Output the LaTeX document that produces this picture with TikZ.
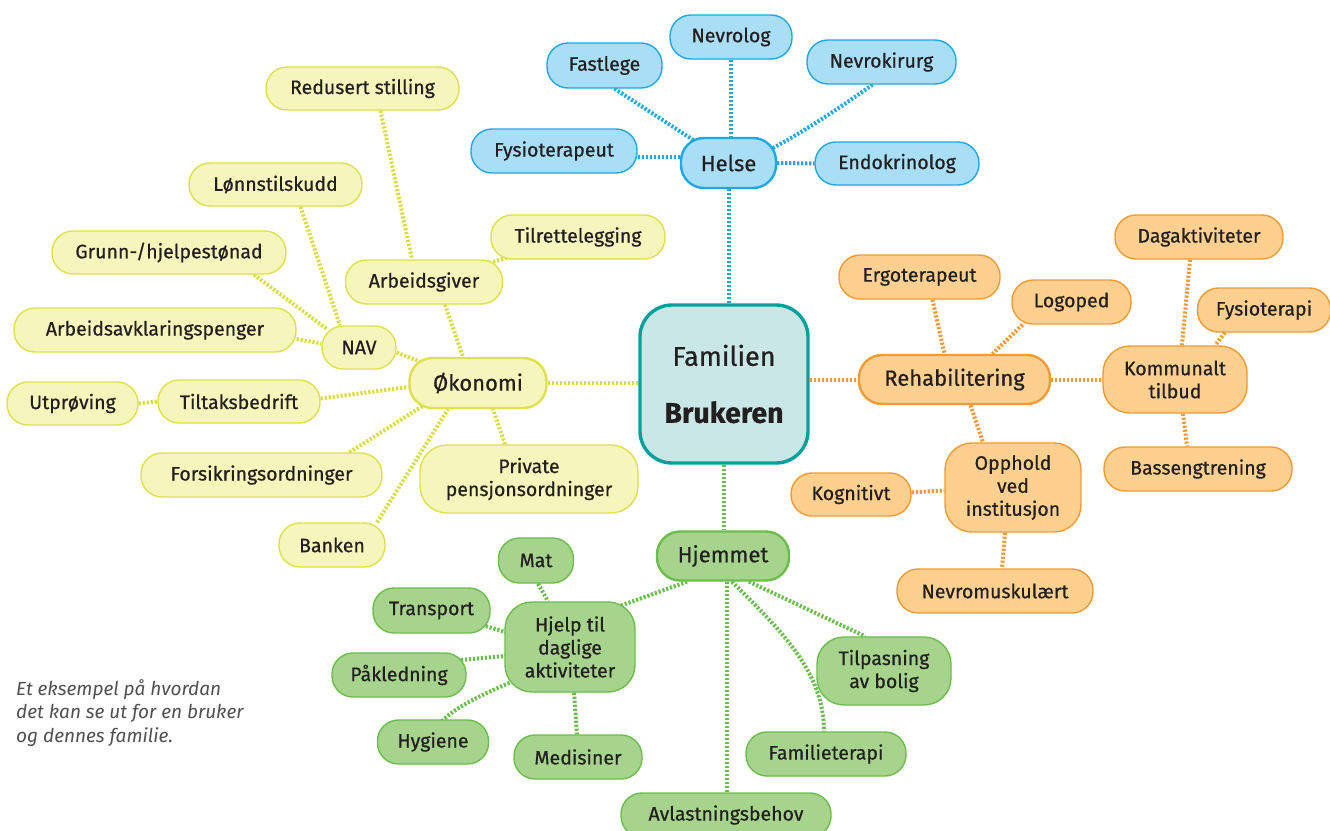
\documentclass[tikz,border=0pt]{standalone}
\usepackage{fontspec}
\setmainfont{Fira Sans}
\newfontfamily\nodefont{Fira Sans}[FakeBold=0.6]
\usetikzlibrary{backgrounds,calc}
\definecolor{txt}{HTML}{231F20}
\definecolor{bfill}{HTML}{A9DEF7}
\definecolor{bcol}{HTML}{1FA8E3}
\definecolor{yfill}{HTML}{F6F5BC}
\definecolor{ycol}{HTML}{DEE14C}
\definecolor{ydot}{HTML}{D9DE3E}
\definecolor{ofill}{HTML}{FDD08F}
\definecolor{ocol}{HTML}{F39A32}
\definecolor{gfill}{HTML}{A7D48D}
\definecolor{gcol}{HTML}{6BBD4C}
\definecolor{cfill}{HTML}{C9E8E5}
\definecolor{ccol}{HTML}{00A19A}
\definecolor{capgray}{HTML}{505050}
\begin{document}
\begin{tikzpicture}[x=1pt,y=-1pt,
  box/.style={draw, align=center, inner sep=0pt, text=txt, line width=1.4pt,
    font=\nodefont\fontsize{19.5}{23}\selectfont, rounded corners=21pt},
  wh/.style 2 args={minimum width=#1pt, minimum height=#2pt},
  mainbox/.style={line width=2.4pt, font=\nodefont\fontsize{22}{26}\selectfont, rounded corners=23pt},
  multi/.style={rounded corners=27pt},
  bnode/.style={box, fill=bfill, draw=bcol},
  ynode/.style={box, fill=yfill, draw=ycol},
  onode/.style={box, fill=ofill, draw=ocol},
  gnode/.style={box, fill=gfill, draw=gcol},
  con/.style={line width=4pt, dash pattern=on 2.2pt off 1.8pt},
  bcon/.style={con, draw=bcol},
  ycon/.style={con, draw=ydot},
  ocon/.style={con, draw=ocol},
  gcon/.style={con, draw=gcol},
]
\useasboundingbox (0,0) rectangle (1330,830);
\begin{pgfonlayer}{background}
\fill[white] (0,0) rectangle (1330,830);
\end{pgfonlayer}

% centre
\node[draw=ccol, fill=cfill, line width=3.4pt, rounded corners=32pt, wh={168}{158},
  align=center, inner sep=0pt, text=txt, font=\nodefont\fontsize{27}{57}\selectfont] (fam) at (724,384)
  {Familien\\{\fontsize{28.5}{57}\selectfont\textbf{Brukeren}}};

% Helse
\node[bnode, mainbox, wh={95}{50}] (helse) at (728.5,163) {Helse};
\node[bnode, wh={122}{44}] (nevrolog) at (731,37) {Nevrolog};
\node[bnode, wh={115}{45}] (fastlege) at (604.5,65.5) {Fastlege};
\node[bnode, wh={149}{44}] (nevrokirurg) at (881.5,62) {Nevrokirurg};
\node[bnode, wh={166}{44}] (fysio) at (554,151) {Fysioterapeut};
\node[bnode, wh={164}{43}] (endo) at (897,163.5) {Endokrinolog};

% Okonomi
\node[ynode, mainbox, wh={137}{50}] (okonomi) at (478,383) {Økonomi};
\node[ynode, wh={193}{43}] (rs) at (362.5,88.5) {Redusert stilling};
\node[ynode, wh={173}{43}] (lonn) at (275.5,184.5) {Lønnstilskudd};
\node[ynode, wh={157}{44}] (ag) at (424,282) {Arbeidsgiver};
\node[ynode, wh={174}{44}] (tilr) at (578,237) {Tilrettelegging};
\node[ynode, wh={234}{43}] (grunn) at (169,252.5) {Grunn-/hjelpestønad};
\node[ynode, wh={74}{43}] (nav) at (359,347.5) {NAV};
\node[ynode, wh={282}{44}] (aap) at (155,330) {Arbeidsavklaringspenger};
\node[ynode, wh={131}{43}] (utpr) at (72.5,403.5) {Utprøving};
\node[ynode, wh={162}{43}] (tiltak) at (239,401.5) {Tiltaksbedrift};
\node[ynode, wh={241}{44}] (fors) at (261.5,475) {Forsikringsordninger};
\node[ynode, multi, wh={218}{68}] (priv) at (529,479) {Private\\pensjonsordninger};
\node[ynode, wh={106}{44}] (banken) at (332,545) {Banken};

% Rehabilitering
\node[onode, mainbox, wh={191}{49}] (rehab) at (954.5,379.5) {Rehabilitering};
\node[onode, wh={161}{44}] (ergo) at (919.5,277) {Ergoterapeut};
\node[onode, wh={119}{44}] (logo) at (1071.5,302) {Logoped};
\node[onode, wh={168}{44}] (dag) at (1199,237) {Dagaktiviteter};
\node[onode, wh={133}{44}] (fysioterapi) at (1264,310) {Fysioterapi};
\node[onode, multi, wh={144}{67}] (komm) at (1175,379.5) {Kommunalt\\tilbud};
\node[onode, wh={188}{44}] (bass) at (1198,469) {Bassengtrening};
\node[onode, multi, wh={136}{89}] (opph) at (1013,487.5) {Opphold\\ved\\institusjon};
\node[onode, wh={120}{43}] (kogn) at (851,494.5) {Kognitivt};
\node[onode, wh={196}{44}] (nevro) at (995,591) {Nevromuskulært};

% Hjemmet
\node[gnode, mainbox, wh={132}{49}] (hjem) at (723,556) {Hjemmet};
\node[gnode, wh={75}{45}] (mat) at (536,560.5) {Mat};
\node[gnode, multi, wh={130}{90}] (hjelp) at (570,647) {Hjelp til\\daglige\\aktiviteter};
\node[gnode, wh={117}{45}] (transport) at (431.5,610.5) {Transport};
\node[gnode, wh={134}{44}] (pak) at (399,675) {Påkledning};
\node[gnode, wh={111}{44}] (hyg) at (433,742) {Hygiene};
\node[gnode, wh={128}{44}] (med) at (578,757) {Medisiner};
\node[gnode, multi, wh={134}{68}] (tilp) at (884,671) {Tilpasning\\av bolig};
\node[gnode, wh={160}{44}] (famt) at (826,754) {Familieterapi};
\node[gnode, wh={210}{44}] (avl) at (726,815) {Avlastningsbehov};

% caption
\node[anchor=north west, inner sep=0pt, align=left, text=capgray,
  font=\fontsize{19}{23.5}\selectfont\itshape] (cap) at (16,679)
  {Et eksempel på hvordan\\det kan se ut for en bruker\\og dennes familie.};

\begin{pgfonlayer}{background}
% blue
\draw[bcon] (nevrolog.south) -- (nevrolog.south |- helse.north);
\draw[bcon] ($(fastlege.south)+(10,0)$) -- (helse.center);
\draw[bcon] ($(nevrokirurg.south)+(-9,0)$) .. controls +(-20,14) and +(40,-12) .. ($(helse.center)+(10,0)$);
\draw[bcon] ($(fysio.east)+(0,6)$) -- ($(helse.west)+(0,-6)$);
\draw[bcon] (helse.east) -- (endo.west);
\draw[bcon] (helse.south) -- (helse.south |- fam.north);
% yellow
\draw[ycon] ($(rs.south)+(18,0)$) -- ($(ag.north)+(-12,0)$);
\draw[ycon] ($(lonn.south)+(25,0)$) -- ($(nav.north)+(-19,0)$);
\draw[ycon] ($(grunn.south)+(85,0)$) -- ($(nav.north west)+(6,4)$);
\draw[ycon] ($(aap.east)+(0,9)$) -- ($(nav.west)+(0,-4)$);
\draw[ycon] ($(nav.east)+(0,5)$) -- ($(okonomi.north west)+(20,8)$);
\draw[ycon] ($(ag.south)+(21,0)$) -- ($(okonomi.north)+(-15,0)$);
\draw[ycon] (ag.center) -- (tilr.center);
\draw[ycon] ($(tiltak.east)+(0,-3)$) -- ($(okonomi.west)+(0,4)$);
\draw[ycon] (utpr.east) -- (tiltak.west);
\draw[ycon] ($(fors.north)+(88,0)$) -- ($(okonomi.south west)+(14,-3)$);
\draw[ycon] ($(banken.north)+(45,0)$) -- ($(okonomi.south)+(-30,0)$);
\draw[ycon] ($(priv.north)+(-24,0)$) -- ($(okonomi.south)+(15,0)$);
\draw[ycon] (okonomi.east) -- (okonomi.east -| fam.west);
% orange
\draw[ocon] (rehab.west -| fam.east) -- (rehab.west);
\draw[ocon] ($(ergo.south)+(13,0)$) -- ($(rehab.north)+(-10,0)$);
\draw[ocon] ($(logo.south)+(-49,0)$) -- ($(rehab.north)+(38,0)$);
\draw[ocon] (rehab.east) -- (komm.west);
\draw[ocon] ($(dag.south)+(-9,0)$) -- ($(komm.north)+(7,0)$);
\draw[ocon] ($(fysioterapi.south)+(-39,0)$) -- ($(komm.north)+(40,0)$);
\draw[ocon] ($(komm.south)+(8,0)$) -- ($(bass.north)+(-11,0)$);
\draw[ocon] ($(rehab.south)+(16,0)$) -- ($(opph.north)+(-30,0)$);
\draw[ocon] ($(kogn.east)+(0,-2)$) -- ($(opph.west)+(0,3)$);
\draw[ocon] ($(opph.south)+(-8,0)$) -- ($(nevro.north)+(7,0)$);
% green
\draw[gcon] (fam.south) -- (fam.south |- hjem.north);
\draw[gcon] ($(hjem.south)+(-36,0)$) -- ($(hjelp.north east)+(-25,8)$);
\draw[gcon] ($(hjem.south)+(4,0)$) -- ($(avl.north)+(1,0)$);
\draw[gcon] ($(hjem.south)+(9,0)$) .. controls +(48,48) and +(0,-60) .. ($(famt.north)+(-2,0)$);
\draw[gcon] ($(hjem.south)+(26,0)$) -- ($(tilp.north)+(-19,0)$);
\draw[gcon] ($(mat.south)+(2,0)$) -- ($(hjelp.north)+(-22,0)$);
\draw[gcon] ($(transport.center)+(39,11)$) -- ($(hjelp.west)+(14,-11)$);
\draw[gcon] ($(pak.center)+(50,-14)$) -- ($(hjelp.west)+(12,8)$);
\draw[gcon] ($(hyg.north)+(9,2)$) .. controls +(12,-14) and +(-25,10) .. ($(hjelp.west)+(10,34)$);
\draw[gcon] ($(hjelp.south)+(4,0)$) -- ($(med.north)+(-1,0)$);
\end{pgfonlayer}
\end{tikzpicture}
\end{document}
